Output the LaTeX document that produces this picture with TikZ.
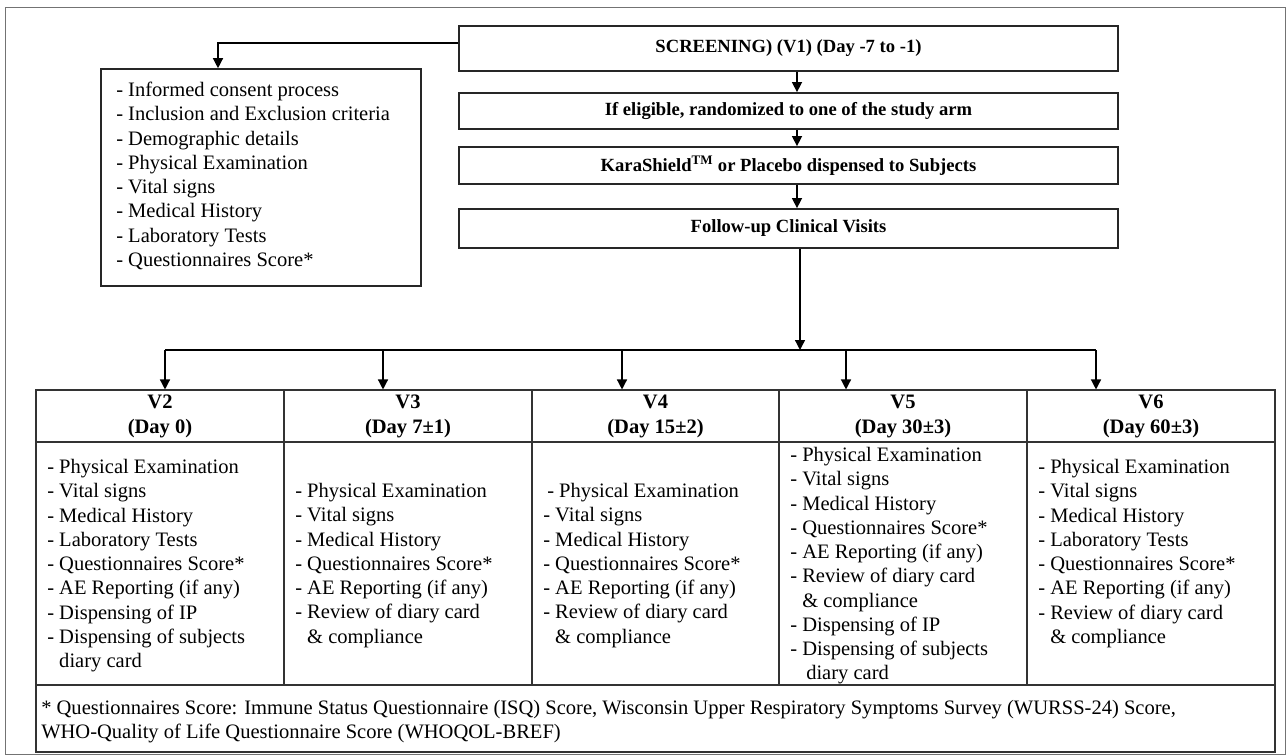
\documentclass[tikz,border=0pt]{standalone}
\usepackage{fontspec}
\setmainfont{Liberation Serif}
\usetikzlibrary{arrows.meta,calc}
\newcommand{\bodyfont}{\fontsize{15.4}{18.2}\selectfont}
\newcommand{\topfont}{\fontsize{13.95}{16}\selectfont\bfseries}
\newcommand{\hdrfont}{\fontsize{15.4}{18.75}\selectfont\bfseries}
\newcommand{\cont}{\phantom{- }}
\begin{document}
\begin{tikzpicture}[x=0.75pt,y=-0.75pt,
  topbox/.style={draw=black!85,line width=1.3pt,minimum width=659*0.75pt,inner sep=0pt,font=\topfont},
  listbox/.style={draw=black!85,line width=1.2pt,inner sep=0pt},
  cell/.style={draw=black!80,line width=0.8pt,inner sep=0pt},
  hcell/.style={cell,minimum height=52*0.75pt,align=center,font=\hdrfont},
  bcell/.style={cell,minimum height=243*0.75pt},
  txt/.style={inner sep=0pt,anchor=base west,font=\bodyfont},
  arr/.style={draw=black,line width=1pt,-{Triangle[length=7.5pt,width=7.5pt]}},
  link/.style={draw=black,line width=1pt}]
\useasboundingbox (0,0) rectangle (1287,755);
\draw[black!55,line width=0.6pt] (5,7) rectangle (1285.5,754);

% top flow boxes
\node[topbox,minimum height=45*0.75pt] (scr) at (788.5,48.5) {SCREENING) (V1) (Day -7 to -1)};
\node[topbox,minimum height=36*0.75pt] (elig) at (788.5,111) {If eligible, randomized to one of the study arm};
\node[topbox,minimum height=37*0.75pt] (kara) at (788.5,165.5) {KaraShield\textsuperscript{TM} or Placebo dispensed to Subjects};
\node[topbox,minimum height=39*0.75pt] (fol) at (788.5,228.5) {Follow-up Clinical Visits};

% screening list box
\node[listbox,minimum width=320*0.75pt,minimum height=217*0.75pt] (lb) at (261,177.5) {};
\node[txt] (lbt) at (116,96.5) {\begin{tabular}[t]{@{}l@{}}
- Informed consent process\\
- Inclusion and Exclusion criteria\\
- Demographic details\\
- Physical Examination\\
- Vital signs\\
- Medical History\\
- Laboratory Tests\\
- Questionnaires Score*
\end{tabular}};

% connectors at top
\coordinate (c1) at (218,43);
\draw[arr] (scr.west |- c1) -- (c1) -- (c1 |- lb.north);
\coordinate (ax) at (797,0);
\draw[arr] (scr.south -| ax) -- (elig.north -| ax);
\draw[arr] (elig.south -| ax) -- (kara.north -| ax);
\draw[arr] (kara.south -| ax) -- (fol.north -| ax);

% table header cells
\node[hcell,minimum width=248*0.75pt] (h2) at (160,416) {V2\\(Day 0)};
\node[hcell,minimum width=248*0.75pt] (h3) at (408,416) {V3\\(Day 7±1)};
\node[hcell,minimum width=247*0.75pt] (h4) at (655.5,416) {V4\\(Day 15±2)};
\node[hcell,minimum width=248*0.75pt] (h5) at (903,416) {V5\\(Day 30±3)};
\node[hcell,minimum width=248*0.75pt] (h6) at (1151,416) {V6\\(Day 60±3)};

% table body cells
\node[bcell,minimum width=248*0.75pt] (b2) at (160,563.5) {};
\node[bcell,minimum width=248*0.75pt] (b3) at (408,563.5) {};
\node[bcell,minimum width=247*0.75pt] (b4) at (655.5,563.5) {};
\node[bcell,minimum width=248*0.75pt] (b5) at (903,563.5) {};
\node[bcell,minimum width=248*0.75pt] (b6) at (1151,563.5) {};

% footnote cell
\node[cell,minimum width=1239*0.75pt,minimum height=67*0.75pt] (fn) at (655.5,718.5) {};
\node[txt] (fnt) at (41,714.5) {\begin{tabular}[t]{@{}l@{}}
* Questionnaires Score: Immune Status Questionnaire (ISQ) Score, Wisconsin Upper Respiratory Symptoms Survey (WURSS-24) Score,\\
WHO-Quality of Life Questionnaire Score (WHOQOL-BREF)
\end{tabular}};

% branching connectors
\coordinate (cx) at (800,350);
\draw[arr] (fol.south -| cx) -- (cx);
\coordinate (a2) at (165,350);
\coordinate (a3) at (383,350);
\coordinate (a4) at (622,350);
\coordinate (a5) at (846,350);
\coordinate (a6) at (1096,350);
\draw[link] (a2) -- (a6);
\draw[arr] (a2) -- (a2 |- h2.north);
\draw[arr] (a3) -- (a3 |- h3.north);
\draw[arr] (a4) -- (a4 |- h4.north);
\draw[arr] (a5) -- (a5 |- h5.north);
\draw[arr] (a6) -- (a6 |- h6.north);

% body texts
\node[txt] (t2) at (47,473.5) {\begin{tabular}[t]{@{}l@{}}
- Physical Examination\\
- Vital signs\\
- Medical History\\
- Laboratory Tests\\
- Questionnaires Score*\\
- AE Reporting (if any)\\
- Dispensing of IP\\
- Dispensing of subjects\\
\cont diary card
\end{tabular}};
\node[txt] (t3) at (295,497.5) {\begin{tabular}[t]{@{}l@{}}
- Physical Examination\\
- Vital signs\\
- Medical History\\
- Questionnaires Score*\\
- AE Reporting (if any)\\
- Review of diary card\\
\cont\& compliance
\end{tabular}};
\node[txt] (t4) at (543,497.5) {\begin{tabular}[t]{@{}l@{}}
\hspace{3pt}- Physical Examination\\
- Vital signs\\
- Medical History\\
- Questionnaires Score*\\
- AE Reporting (if any)\\
- Review of diary card\\
\cont\& compliance
\end{tabular}};
\node[txt] (t5) at (790,461.5) {\begin{tabular}[t]{@{}l@{}}
- Physical Examination\\
- Vital signs\\
- Medical History\\
- Questionnaires Score*\\
- AE Reporting (if any)\\
- Review of diary card\\
\cont\& compliance\\
- Dispensing of IP\\
- Dispensing of subjects\\
\cont\hspace{3pt}diary card
\end{tabular}};
\node[txt] (t6) at (1038,473.5) {\begin{tabular}[t]{@{}l@{}}
- Physical Examination\\
- Vital signs\\
- Medical History\\
- Laboratory Tests\\
- Questionnaires Score*\\
- AE Reporting (if any)\\
- Review of diary card\\
\cont\& compliance
\end{tabular}};
\end{tikzpicture}
\end{document}
